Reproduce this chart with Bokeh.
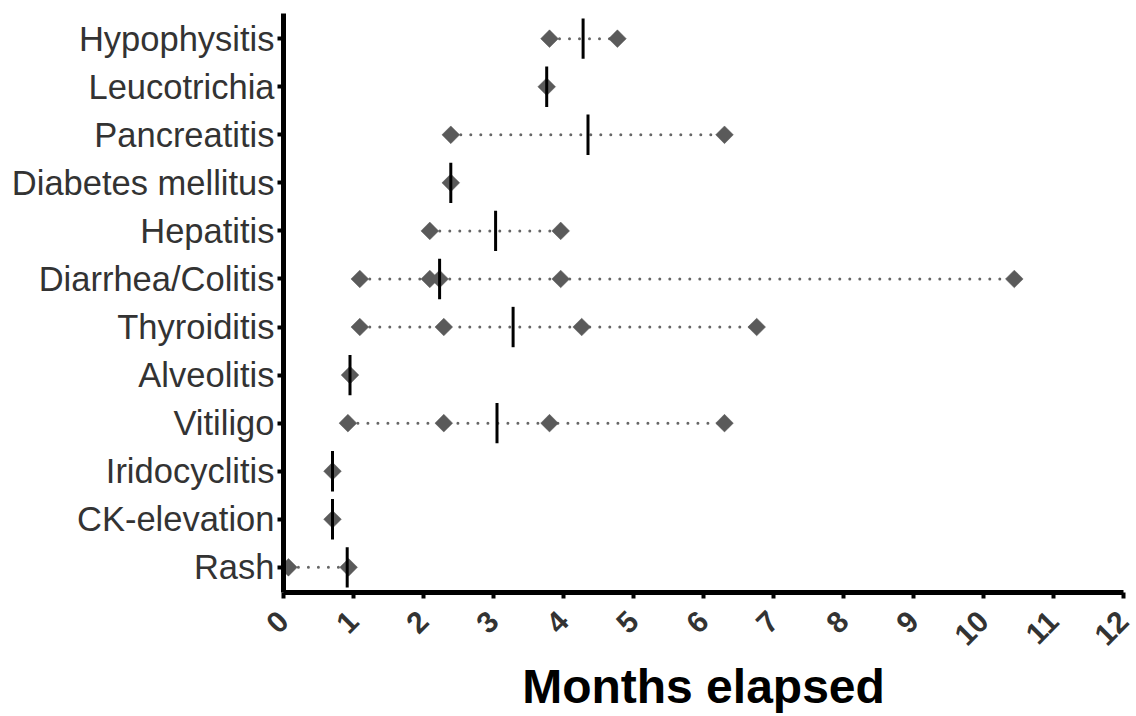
import numpy as np
from bokeh.plotting import figure
from bokeh.models import FactorRange, Range1d, FixedTicker, ColumnDataSource
from bokeh.embed import file_html
from bokeh.resources import INLINE

# Categories, bottom to top
categories = ["Rash", "CK-elevation", "Iridocyclitis", "Vitiligo", "Alveolitis",
              "Thyroiditis", "Diarrhea/Colitis", "Hepatitis", "Diabetes mellitus",
              "Pancreatitis", "Leucotrichia", "Hypophysitis"]

# Onset times (months) per adverse event
rash = [0.07, 0.93]
ck_elevation = [0.70]
iridocyclitis = [0.70]
vitiligo = [0.92, 2.29, 3.80, 6.30]
alveolitis = [0.95]
thyroiditis = [1.09, 2.29, 4.26, 6.76]
diarrhea_colitis = [1.09, 2.09, 2.23, 3.96, 10.44]
hepatitis = [2.09, 3.96]
diabetes_mellitus = [2.39]
pancreatitis = [2.39, 6.30]
leucotrichia = [3.76]
hypophysitis = [3.80, 4.77]

# Median lines as drawn, same order as categories
medians = [0.91, 0.70, 0.70, 3.05, 0.95, 3.28, 2.23, 3.03, 2.39, 4.35, 3.76, 4.28]

x_ticks = list(range(0, 13))

series = [rash, ck_elevation, iridocyclitis, vitiligo, alveolitis, thyroiditis,
          diarrhea_colitis, hepatitis, diabetes_mellitus, pancreatitis,
          leucotrichia, hypophysitis]

pt_x, pt_y = [], []
for cat, vals in zip(categories, series):
    for v in vals:
        pt_x.append(v)
        pt_y.append(cat)
points = ColumnDataSource(dict(x=pt_x, y=pt_y))
spans = ColumnDataSource(dict(x0=[min(v) for v in series], x1=[max(v) for v in series],
                              y=categories))
meds = ColumnDataSource(dict(x=medians, y=categories))

FONT = "Liberation Sans"

p = figure(width=1136, height=716,
           x_range=Range1d(0, 12),
           y_range=FactorRange(factors=categories, range_padding=0.004),
           output_backend="svg", toolbar_location=None,
           min_border_left=283, min_border_right=13, min_border_top=13,
           min_border_bottom=123)
p.outline_line_color = None
p.xgrid.grid_line_color = None
p.ygrid.grid_line_color = None
p.background_fill_color = "white"
p.border_fill_color = "white"

p.segment(x0="x0", x1="x1", y0="y", y1="y", source=spans,
          line_color="#666666", line_width=3, line_dash="0 10", line_cap="round")
p.scatter(x="x", y="y", source=points, marker="square", angle=np.pi / 4, size=12.5,
          fill_color="#5a5a5a", line_color="#5a5a5a", line_width=0.5)
p.rect(x="x", y="y", width=3, width_units="screen", height=0.84, source=meds,
       fill_color="black", line_color=None)

xa = p.xaxis[0]
xa.ticker = FixedTicker(ticks=x_ticks)
xa.axis_line_width = 5
xa.axis_line_color = "black"
xa.major_tick_line_width = 4
xa.major_tick_line_color = "black"
xa.major_tick_out = 6
xa.major_tick_in = 0
xa.minor_tick_line_color = None
xa.major_label_orientation = np.pi / 4
xa.major_label_text_font = FONT
xa.major_label_text_font_style = "bold"
xa.major_label_text_font_size = "30px"
xa.major_label_text_color = "#333333"
xa.major_label_standoff = 18
xa.axis_label = "Months elapsed"
xa.axis_label_text_font = FONT
xa.axis_label_text_font_style = "bold"
xa.axis_label_text_font_size = "48px"
xa.axis_label_text_color = "black"
xa.axis_label_standoff = 3

ya = p.yaxis[0]
ya.axis_line_width = 5
ya.axis_line_color = "black"
ya.major_tick_line_width = 4
ya.major_tick_line_color = "black"
ya.major_tick_out = 6
ya.major_tick_in = 0
ya.minor_tick_line_color = None
ya.major_label_text_font = FONT
ya.major_label_text_font_size = "34.5px"
ya.major_label_text_color = "#333333"
ya.major_label_standoff = 3

open("out.html", "w").write(file_html(p, INLINE))
